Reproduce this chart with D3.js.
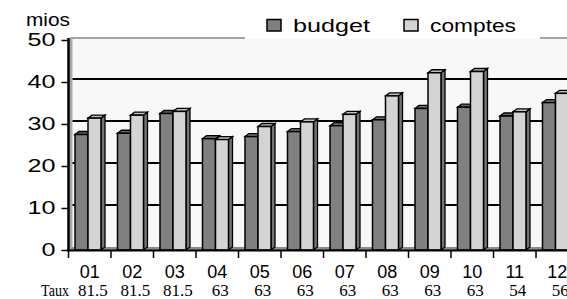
<!DOCTYPE html>
<html>
<head>
<meta charset="utf-8">
<script src="https://cdn.jsdelivr.net/npm/d3@7"></script>
<style>
  body { margin: 0; background: #fff; }
  text { font-family: "Liberation Sans", Arial, sans-serif; fill: #000; }
  .serif { font-family: "Liberation Serif", "Times New Roman", serif; }
</style>
</head>
<body>
<svg id="chart"></svg>
<script>
// data
const categories = ["01", "02", "03", "04", "05", "06", "07", "08", "09", "10", "11", "12"];
const budget  = [27.5, 27.8, 32.5, 26.5, 27.0, 28.2, 29.6, 31.0, 33.7, 34.0, 31.9, 35.1];
const comptes = [31.4, 32.1, 33.0, 26.3, 29.4, 30.5, 32.3, 36.7, 42.2, 42.5, 32.9, 37.3];
const taux = ["81.5", "81.5", "81.5", "63", "63", "63", "63", "63", "63", "63", "54", "56"];
const yTicks = [0, 10, 20, 30, 40, 50];
const seriesNames = ["budget", "comptes"];

const width = 567, height = 299;
const dx = 4, dy = 3;          // 3d depth offset
const barW = 13;

const svg = d3.select("#chart")
    .attr("width", width)
    .attr("height", height);

const x = d3.scaleBand()
    .domain(categories)
    .range([68.5, 68.5 + 42.5 * categories.length]);

const y = d3.scaleLinear()
    .domain([0, 50])
    .range([250, 40]);

// back wall
svg.append("rect")
    .attr("x", 72.5).attr("y", y(50) - dy)
    .attr("width", width - 72.5).attr("height", y(0) - y(50))
    .attr("fill", "#f8f8f8");
svg.append("line")
    .attr("x1", 70).attr("x2", width)
    .attr("y1", y(50) - dy + 1).attr("y2", y(50) - dy + 1)
    .attr("stroke", "#888").attr("stroke-width", 1.5);

// side wall and floor
svg.append("polygon")
    .attr("points", [[68.5, y(0)], [68.5, y(50)], [68.5 + dx, y(50) - dy], [68.5 + dx, y(0) - dy]].join(" "))
    .attr("fill", "#a8a8a8");
svg.append("polygon")
    .attr("points", [[68.5, y(0)], [68.5 + dx, y(0) - dy], [width, y(0) - dy], [width, y(0)]].join(" "))
    .attr("fill", "#8c8c8c");

// gridlines on the wall
svg.selectAll(".grid")
    .data(yTicks.filter(d => d > 0 && d < 50))
    .enter()
    .append("line")
    .attr("x1", 68.5 + dx).attr("x2", width)
    .attr("y1", d => y(d) - dy).attr("y2", d => y(d) - dy)
    .attr("stroke", "#000").attr("stroke-width", 1.8);

// bars
const styles = [
    { front: "#808080", top: "#6c6c6c", side: "#5c5c5c" },
    { front: "#d4d4d4", top: "#bebebe", side: "#747474" }
];

function bar(g, x0, v, st) {
    const yt = y(v), yb = y(0), x1 = x0 + barW;
    g.append("polygon")
        .attr("points", [[x1, yt], [x1 + dx, yt - dy], [x1 + dx, yb - dy], [x1, yb]].join(" "))
        .attr("fill", st.side).attr("stroke", "#000").attr("stroke-width", 1.3);
    g.append("polygon")
        .attr("points", [[x0, yt], [x0 + dx, yt - dy], [x1 + dx, yt - dy], [x1, yt]].join(" "))
        .attr("fill", st.top).attr("stroke", "#000").attr("stroke-width", 1.3);
    g.append("rect")
        .attr("x", x0).attr("y", yt)
        .attr("width", barW).attr("height", yb - yt)
        .attr("fill", st.front).attr("stroke", "#000").attr("stroke-width", 1.5);
}

const groups = svg.selectAll(".grp")
    .data(categories)
    .enter()
    .append("g");

groups.each(function(c, i) {
    const g = d3.select(this);
    bar(g, x(c) + 6.5, budget[i], styles[0]);
    bar(g, x(c) + 6.5 + barW, comptes[i], styles[1]);
});

// y axis
const yAxis = svg.append("g")
    .attr("transform", "translate(68.5,0)")
    .call(d3.axisLeft(y).tickValues(yTicks).tickSize(7).tickSizeOuter(0));
yAxis.select(".domain").remove();
yAxis.selectAll("line").attr("stroke", "#000").attr("stroke-width", 1.5);
yAxis.selectAll("text")
    .attr("x", -13)
    .style("font-size", "18px")
    .attr("textLength", d => String(d).length * 14)
    .attr("lengthAdjust", "spacingAndGlyphs");
svg.append("line")
    .attr("x1", 68.5).attr("x2", 68.5)
    .attr("y1", y(50) - 2).attr("y2", y(0) + 1)
    .attr("stroke", "#000").attr("stroke-width", 2.5);

// x axis
svg.append("line")
    .attr("x1", 67).attr("x2", width)
    .attr("y1", y(0) + 0.5).attr("y2", y(0) + 0.5)
    .attr("stroke", "#000").attr("stroke-width", 2);
svg.selectAll(".xtick")
    .data(categories)
    .enter()
    .append("line")
    .attr("x1", d => x(d)).attr("x2", d => x(d))
    .attr("y1", y(0)).attr("y2", y(0) + 8)
    .attr("stroke", "#000").attr("stroke-width", 1.5);
svg.selectAll(".xlab")
    .data(categories)
    .enter()
    .append("text")
    .attr("x", d => x(d) + x.bandwidth() / 2)
    .attr("y", 278)
    .attr("text-anchor", "middle")
    .style("font-size", "18px")
    .text(d => d);

// taux row
svg.append("text")
    .attr("class", "serif")
    .attr("x", 41).attr("y", 295.5)
    .style("font-size", "17px")
    .attr("textLength", 28)
    .attr("lengthAdjust", "spacingAndGlyphs")
    .text("Taux");
svg.selectAll(".taux")
    .data(taux)
    .enter()
    .append("text")
    .attr("class", "serif")
    .attr("x", (d, i) => x(categories[i]) + x.bandwidth() / 2 + 3)
    .attr("y", 295.5)
    .attr("text-anchor", "middle")
    .style("font-size", "17px")
    .text(d => d);

// unit label
svg.append("text")
    .attr("x", 26).attr("y", 26)
    .style("font-size", "18px")
    .attr("textLength", 44)
    .attr("lengthAdjust", "spacingAndGlyphs")
    .text("mios");

// legend
svg.append("rect")
    .attr("x", 245).attr("y", 8)
    .attr("width", 295).attr("height", 31)
    .attr("fill", "#fff");
const legX = [267, 404];
const legTextX = [293, 430];
const legLen = [77, 86];
seriesNames.forEach((name, i) => {
    svg.append("rect")
        .attr("x", legX[i]).attr("y", 19.5)
        .attr("width", 14).attr("height", 11.5)
        .attr("fill", styles[i].front)
        .attr("stroke", "#000").attr("stroke-width", 1.5);
    svg.append("text")
        .attr("x", legTextX[i]).attr("y", 31.5)
        .style("font-size", "18.5px")
        .attr("textLength", legLen[i])
        .attr("lengthAdjust", "spacingAndGlyphs")
        .text(name);
});
</script>
</body>
</html>
